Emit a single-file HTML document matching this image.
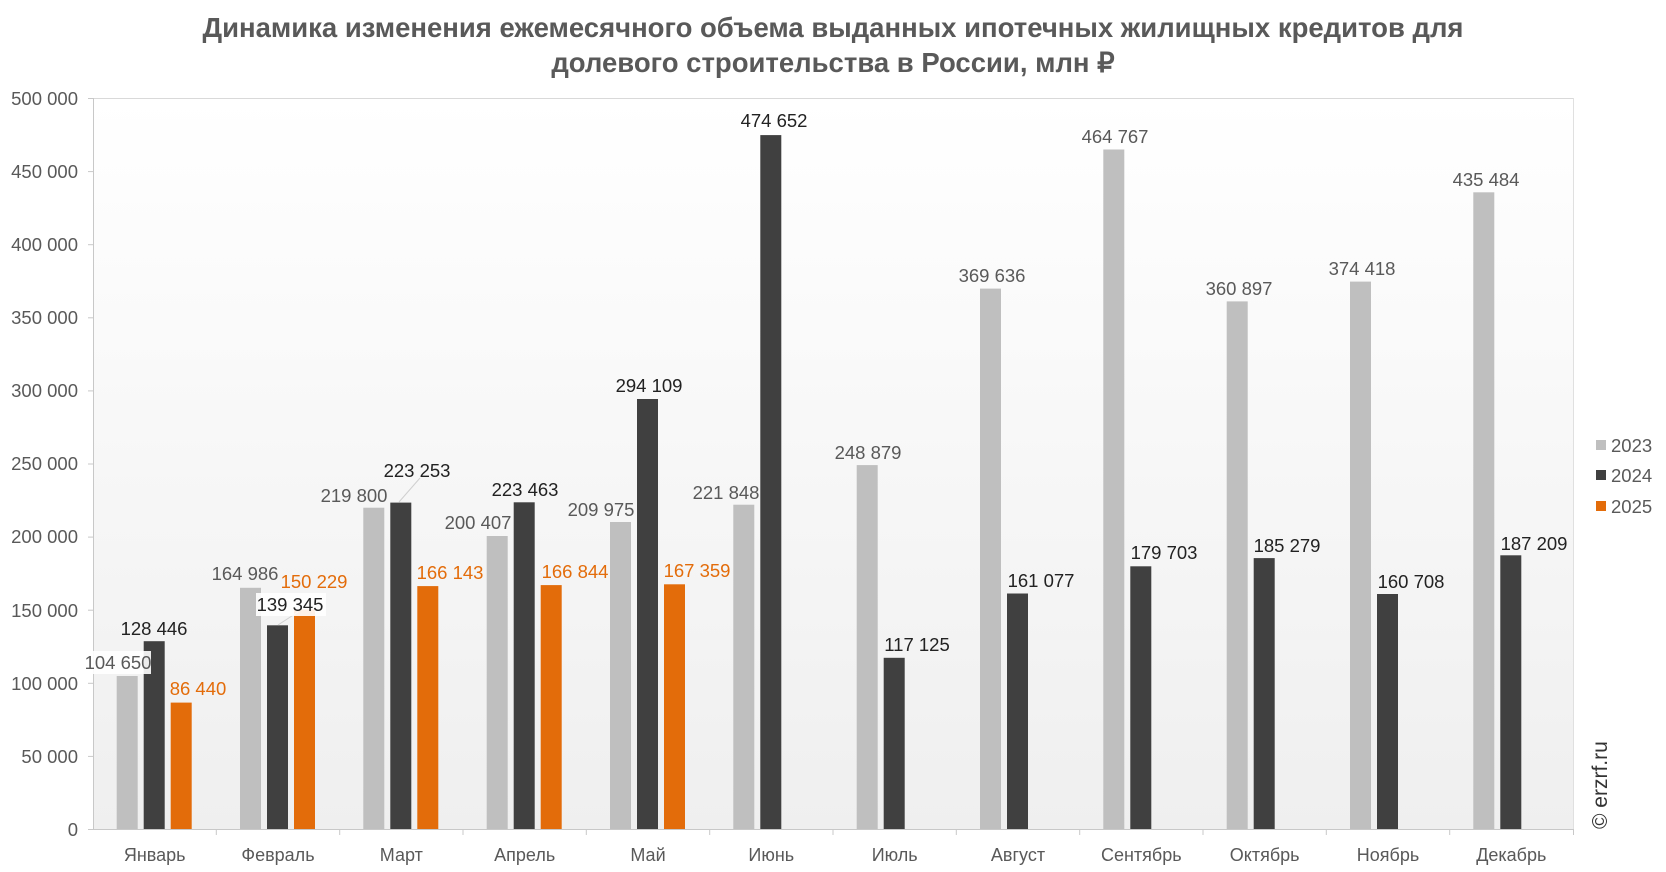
<!DOCTYPE html>
<html><head><meta charset="utf-8"><style>
html,body{margin:0;padding:0;background:#fff}
svg{display:block;font-family:"Liberation Sans",sans-serif}
</style></head><body>
<svg width="1666" height="872" viewBox="0 0 1666 872">
<defs><linearGradient id="g" x1="0" y1="0" x2="0" y2="1"><stop offset="0" stop-color="#ffffff"/><stop offset="1" stop-color="#efefef"/></linearGradient></defs>
<rect width="1666" height="872" fill="#fff"/>
<text x="833" y="37" text-anchor="middle" font-size="27.5" font-weight="bold" fill="#595959">Динамика изменения ежемесячного объема выданных ипотечных жилищных кредитов для</text>
<text x="833" y="72" text-anchor="middle" font-size="27.5" font-weight="bold" fill="#595959">долевого строительства в России, млн ₽</text>
<rect x="93" y="98" width="1480" height="731" fill="url(#g)"/>
<line x1="93" y1="98.5" x2="1573" y2="98.5" stroke="#d9d9d9"/>
<line x1="1573.5" y1="98" x2="1573.5" y2="829" stroke="#e0e0e0"/>
<line x1="93.5" y1="98" x2="93.5" y2="829" stroke="#c8c8c8"/>
<line x1="93" y1="829.5" x2="1573" y2="829.5" stroke="#c8c8c8"/>
<g stroke="#c8c8c8">
<line x1="88" y1="98.5" x2="93" y2="98.5"/><line x1="88" y1="171.6" x2="93" y2="171.6"/><line x1="88" y1="244.7" x2="93" y2="244.7"/><line x1="88" y1="317.8" x2="93" y2="317.8"/><line x1="88" y1="390.9" x2="93" y2="390.9"/><line x1="88" y1="464" x2="93" y2="464"/><line x1="88" y1="537.1" x2="93" y2="537.1"/><line x1="88" y1="610.2" x2="93" y2="610.2"/><line x1="88" y1="683.3" x2="93" y2="683.3"/><line x1="88" y1="756.4" x2="93" y2="756.4"/><line x1="88" y1="829.5" x2="93" y2="829.5"/>
<line x1="216.3" y1="829" x2="216.3" y2="835"/><line x1="339.7" y1="829" x2="339.7" y2="835"/><line x1="463" y1="829" x2="463" y2="835"/><line x1="586.3" y1="829" x2="586.3" y2="835"/><line x1="709.7" y1="829" x2="709.7" y2="835"/><line x1="833" y1="829" x2="833" y2="835"/><line x1="956.3" y1="829" x2="956.3" y2="835"/><line x1="1079.7" y1="829" x2="1079.7" y2="835"/><line x1="1203" y1="829" x2="1203" y2="835"/><line x1="1326.3" y1="829" x2="1326.3" y2="835"/><line x1="1449.7" y1="829" x2="1449.7" y2="835"/><line x1="1573.5" y1="829" x2="1573.5" y2="835"/>
</g>
<g font-size="18.5" fill="#595959" text-anchor="end">
<text x="78" y="105">500 000</text><text x="78" y="178">450 000</text><text x="78" y="251">400 000</text><text x="78" y="324">350 000</text><text x="78" y="397">300 000</text><text x="78" y="470">250 000</text><text x="78" y="543">200 000</text><text x="78" y="617">150 000</text><text x="78" y="690">100 000</text><text x="78" y="763">50 000</text><text x="78" y="836">0</text>
</g>
<g font-size="18" fill="#595959" text-anchor="middle">
<text x="154.7" y="861">Январь</text><text x="278" y="861">Февраль</text><text x="401.3" y="861">Март</text><text x="524.7" y="861">Апрель</text><text x="648" y="861">Май</text><text x="771.3" y="861">Июнь</text><text x="894.7" y="861">Июль</text><text x="1018" y="861">Август</text><text x="1141.3" y="861">Сентябрь</text><text x="1264.7" y="861">Октябрь</text><text x="1388" y="861">Ноябрь</text><text x="1511.3" y="861">Декабрь</text>
</g>
<g fill="#bfbfbf">
<rect x="116.7" y="676" width="21" height="153"/><rect x="240" y="587.8" width="21" height="241.2"/><rect x="363.3" y="507.7" width="21" height="321.3"/><rect x="486.7" y="536" width="21" height="293"/><rect x="610" y="522" width="21" height="307"/><rect x="733.3" y="504.7" width="21" height="324.3"/><rect x="856.7" y="465.1" width="21" height="363.9"/><rect x="980" y="288.6" width="21" height="540.4"/><rect x="1103.3" y="149.5" width="21" height="679.5"/><rect x="1226.7" y="301.4" width="21" height="527.6"/><rect x="1350" y="281.6" width="21" height="547.4"/><rect x="1473.3" y="192.3" width="21" height="636.7"/>
</g>
<g fill="#404040">
<rect x="143.7" y="641.2" width="21" height="187.8"/><rect x="267" y="625.3" width="21" height="203.7"/><rect x="390.3" y="502.6" width="21" height="326.4"/><rect x="513.7" y="502.3" width="21" height="326.7"/><rect x="637" y="399" width="21" height="430"/><rect x="760.3" y="135.1" width="21" height="693.9"/><rect x="883.7" y="657.8" width="21" height="171.2"/><rect x="1007" y="593.5" width="21" height="235.5"/><rect x="1130.3" y="566.3" width="21" height="262.7"/><rect x="1253.7" y="558.1" width="21" height="270.9"/><rect x="1377" y="594" width="21" height="235"/><rect x="1500.3" y="555.3" width="21" height="273.7"/>
</g>
<g fill="#e36c0a">
<rect x="170.7" y="702.6" width="21" height="126.4"/><rect x="294" y="609.4" width="21" height="219.6"/><rect x="417.3" y="586.1" width="21" height="242.9"/><rect x="540.7" y="585.1" width="21" height="243.9"/><rect x="664" y="584.3" width="21" height="244.7"/>
</g>
<line x1="399" y1="502" x2="420" y2="478" stroke="#d0d0d0"/>
<line x1="278" y1="625" x2="298" y2="612" stroke="#d0d0d0"/>
<rect x="85" y="651" width="66" height="23" fill="#fff" opacity="0.9"/>
<rect x="256" y="593" width="70" height="23" fill="#fff" opacity="0.9"/>
<g font-size="18.5" text-anchor="middle">
<g fill="#595959">
<text x="118" y="669">104 650</text><text x="245" y="580">164 986</text><text x="354" y="502">219 800</text><text x="478" y="529">200 407</text><text x="601" y="516">209 975</text><text x="726" y="499">221 848</text><text x="868" y="459">248 879</text><text x="992" y="282">369 636</text><text x="1115" y="143">464 767</text><text x="1239" y="295">360 897</text><text x="1362" y="275">374 418</text><text x="1486" y="186">435 484</text>
</g>
<g fill="#222">
<text x="154" y="635">128 446</text><text x="290" y="611">139 345</text><text x="417" y="477">223 253</text><text x="525" y="496">223 463</text><text x="649" y="392">294 109</text><text x="774" y="127">474 652</text><text x="917" y="651">117 125</text><text x="1041" y="587">161 077</text><text x="1164" y="559">179 703</text><text x="1287" y="552">185 279</text><text x="1411" y="588">160 708</text><text x="1534" y="550">187 209</text>
</g>
<g fill="#e36c0a">
<text x="198" y="695">86 440</text><text x="314" y="588">150 229</text><text x="450" y="579">166 143</text><text x="575" y="578">166 844</text><text x="697" y="577">167 359</text>
</g>
</g>
<g font-size="18.5" fill="#595959">
<rect x="1596" y="440" width="10" height="10" fill="#bfbfbf"/><text x="1611" y="452">2023</text>
<rect x="1596" y="470" width="10" height="10" fill="#404040"/><text x="1611" y="482">2024</text>
<rect x="1596" y="501" width="10" height="10" fill="#e36c0a"/><text x="1611" y="513">2025</text>
</g>
<text transform="translate(1607,829) rotate(-90)" font-size="21" fill="#333">© erzrf.ru</text>
</svg>
</body></html>
